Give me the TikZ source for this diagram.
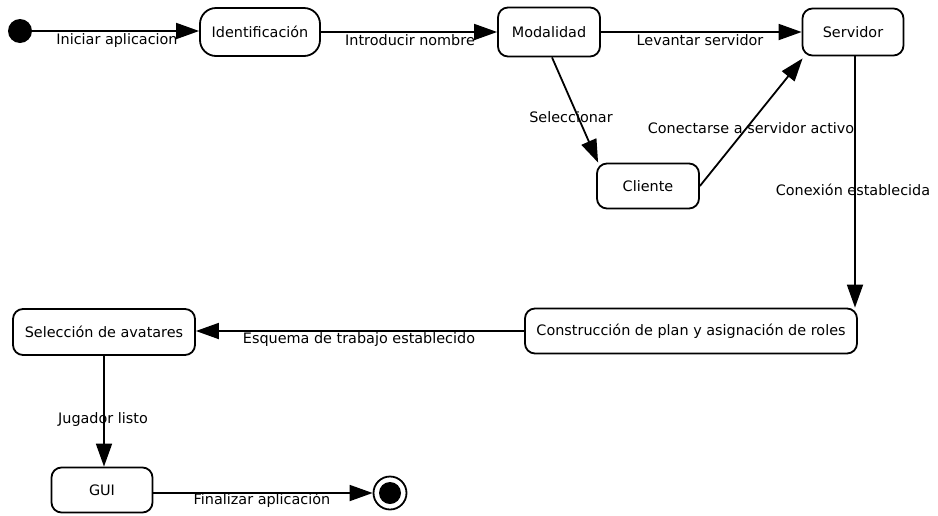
\documentclass[tikz,border=0pt]{standalone}
\usepackage{fontspec}
\setmainfont{DejaVu Sans}
\usetikzlibrary{arrows.meta}
\begin{document}
\begin{tikzpicture}[x=1pt,y=-1pt,
  font=\fontsize{14.4}{17}\selectfont,
  state/.style={draw,line width=1.8pt,rounded corners=10pt,inner sep=0pt,align=center},
  trans/.style={line width=1.8pt,-{Triangle[length=23pt,width=16pt]}},
  lbl/.style={inner sep=0pt}]
\useasboundingbox (0,0) rectangle (938,515);
\node[circle,fill,minimum size=24pt,inner sep=0pt] (init) at (20,31) {};
\node[state,rounded corners=16pt,minimum width=120pt,minimum height=48pt] (ident) at (260,32) {Identificación};
\node[state,minimum width=102pt,minimum height=49pt] (modal) at (549,32) {Modalidad};
\node[state,minimum width=101pt,minimum height=47pt] (serv) at (853,32) {Servidor};
\node[state,minimum width=102pt,minimum height=45pt] (cli) at (648,186) {Cliente};
\node[state,minimum width=332pt,minimum height=45pt] (constr) at (691,331) {Construcción de plan y asignación de roles};
\node[state,minimum width=182pt,minimum height=46pt] (selec) at (104,332) {Selección de avatares};
\node[state,minimum width=101pt,minimum height=45pt] (gui) at (102,490) {GUI};
\node[circle,draw,line width=1.8pt,minimum size=33pt,inner sep=0pt] (fin) at (390,493) {};
\fill (fin) circle (11);

\draw[trans] (init) -- (init -| ident.west);
\draw[trans] (ident) -- (ident -| modal.west);
\draw[trans] (modal) -- (modal -| serv.west);
\draw[trans] ([xshift=3pt]modal.south) -- ([xshift=2pt]cli.north west);
\draw[trans] (cli.east) -- ([xshift=1pt,yshift=-2pt]serv.south west);
\draw[trans] ([xshift=2pt]serv.south) -- ([xshift=2pt]serv.south |- constr.north);
\draw[trans] (constr.west) -- (constr.west -| selec.east);
\draw[trans] (selec.south) -- (selec.south |- gui.north);
\draw[trans] (gui.east |- fin) -- (fin);

\node[lbl] (l1) at (117,41) {Iniciar aplicacion};
\node[lbl] (l2) at (410,40) {Introducir nombre};
\node[lbl] (l3) at (700,40) {Levantar servidor};
\node[lbl] (l4) at (571,117) {Seleccionar};
\node[lbl] (l5) at (751,128) {Conectarse a servidor activo};
\node[lbl] (l6) at (853,190) {Conexión establecida};
\node[lbl] (l7) at (359,340) {Esquema de trabajo establecido};
\node[lbl] (l8) at (103,420) {Jugador listo};
\node[lbl] (l9) at (262,500) {Finalizar aplicación};
\end{tikzpicture}
\end{document}
